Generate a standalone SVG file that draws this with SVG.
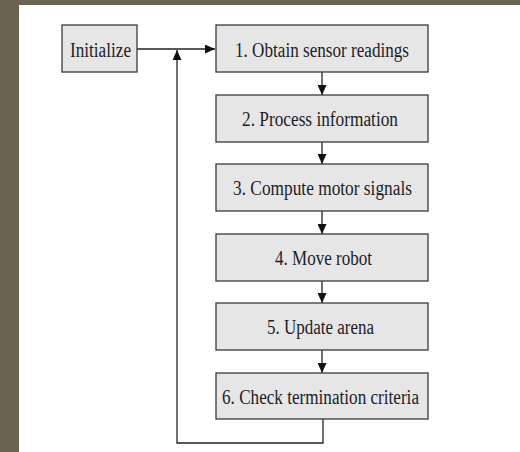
<svg xmlns="http://www.w3.org/2000/svg" width="520" height="452" viewBox="0 0 520 452">
<style>
.box{fill:#e6e6e6;stroke:#3a3a3a;stroke-width:1.3}
.lbl{font-family:"Liberation Serif","Times New Roman",serif;font-size:20px;fill:#1c1c26}
.ln{fill:none;stroke:#222;stroke-width:1.3}
</style>
<defs>
<marker id="ah" viewBox="0 0 10 9" refX="10" refY="4.5" markerWidth="10" markerHeight="9" markerUnits="userSpaceOnUse" orient="auto">
<path d="M0,0 L10,4.5 L0,9 Z" fill="#111"/>
</marker>
</defs>
<rect x="0" y="0" width="520" height="452" fill="#ffffff"/>
<rect x="0" y="0" width="520" height="5" fill="#6b6352"/>
<rect x="0" y="0" width="19" height="452" fill="#6b6352"/>
<g id="connectors">
<path class="ln" d="M137,49 H215" marker-end="url(#ah)"/>
<path class="ln" d="M323,419 V443 H177 V50" marker-end="url(#ah)"/>
<path class="ln" d="M322,72 V95" marker-end="url(#ah)"/>
<path class="ln" d="M322,142 V164" marker-end="url(#ah)"/>
<path class="ln" d="M322,211 V234" marker-end="url(#ah)"/>
<path class="ln" d="M322,281 V303" marker-end="url(#ah)"/>
<path class="ln" d="M322,350 V373" marker-end="url(#ah)"/>
</g>
<g id="init"><rect class="box" x="62" y="25" width="75" height="47"/><text class="lbl" x="70" y="56.5" textLength="61" lengthAdjust="spacingAndGlyphs">Initialize</text></g>
<g id="step1"><rect class="box" x="216" y="25" width="212" height="47"/><text class="lbl" x="235" y="56.5" textLength="174" lengthAdjust="spacingAndGlyphs">1. Obtain sensor readings</text></g>
<g id="step2"><rect class="box" x="216" y="95" width="212" height="47"/><text class="lbl" x="242" y="126" textLength="156" lengthAdjust="spacingAndGlyphs">2. Process information</text></g>
<g id="step3"><rect class="box" x="216" y="164" width="212" height="47"/><text class="lbl" x="233" y="195" textLength="179" lengthAdjust="spacingAndGlyphs">3. Compute motor signals</text></g>
<g id="step4"><rect class="box" x="216" y="234" width="212" height="47"/><text class="lbl" x="275" y="265" textLength="97" lengthAdjust="spacingAndGlyphs">4. Move robot</text></g>
<g id="step5"><rect class="box" x="216" y="303" width="212" height="47"/><text class="lbl" x="267" y="334" textLength="107" lengthAdjust="spacingAndGlyphs">5. Update arena</text></g>
<g id="step6"><rect class="box" x="216" y="373" width="212" height="46"/><text class="lbl" x="222" y="403.5" textLength="197" lengthAdjust="spacingAndGlyphs">6. Check termination criteria</text></g>
</svg>
